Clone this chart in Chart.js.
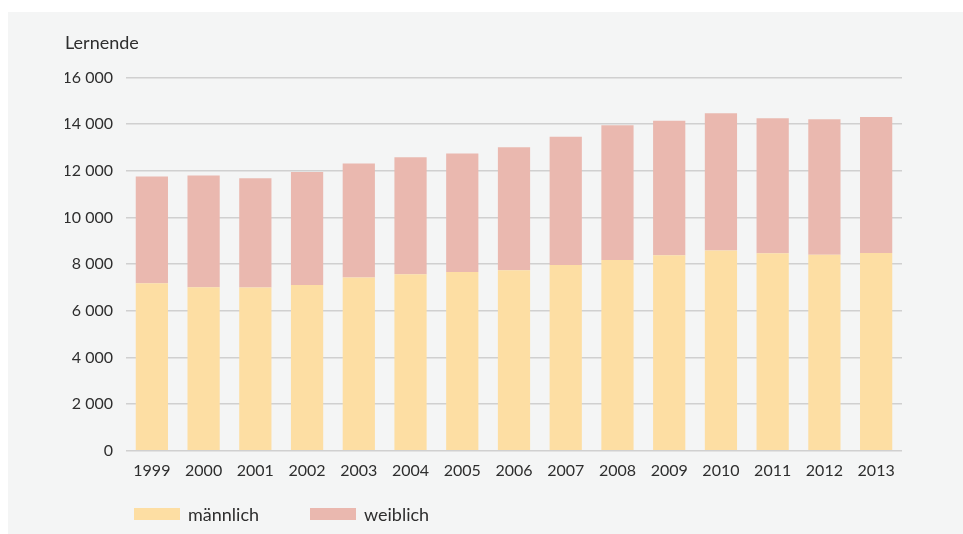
<!DOCTYPE html>
<html>
<head>
<meta charset="utf-8">
<script src="https://cdn.jsdelivr.net/npm/chart.js@4"></script>
<style>
  html, body { margin: 0; padding: 0; background: #fff; }
  #panel {
    position: absolute; left: 8px; top: 12px; width: 955px; height: 522px;
    background: #f4f5f5;
  }
  #myChart { position: absolute; left: 0; top: 0; }
  #legend {
    position: absolute; left: 126px; top: 491px;
    font-family: Lato, sans-serif; font-size: 18px; color: #2e2e2e;
  }
  .item { position: absolute; top: 0; white-space: nowrap; display: flex; align-items: center; }
  .box { display: inline-block; width: 46px; height: 12px; margin-right: 8px; }
</style>
</head>
<body>
<div id="panel">
  <canvas id="myChart" width="955" height="522"></canvas>
  <div id="legend"></div>
</div>
<script>
// Lernende nach Geschlecht, 1999-2013
const years = ['1999', '2000', '2001', '2002', '2003', '2004', '2005', '2006',
  '2007', '2008', '2009', '2010', '2011', '2012', '2013']
const maennlich = [7180, 7010, 7000, 7110, 7430, 7570, 7670, 7740,
  7970, 8180, 8380, 8590, 8470, 8400, 8480]
const weiblich = [4580, 4790, 4680, 4840, 4890, 5020, 5080, 5270,
  5490, 5780, 5770, 5880, 5790, 5810, 5830]
const yTicks = [0, 2000, 4000, 6000, 8000, 10000, 12000, 14000, 16000]

const textColor = '#2e2e2e'
const font = 'Lato'

function fmt(v) {
  return String(v).replace(/\B(?=(\d{3})+(?!\d))/g, ' ')
}

const ctx = document.getElementById('myChart')
const myChart = new Chart(ctx, {
  type: 'bar',
  data: {
    labels: years,
    datasets: [{
      label: 'männlich',
      data: maennlich,
      backgroundColor: '#fddea3'
    }, {
      label: 'weiblich',
      data: weiblich,
      backgroundColor: '#eab8af'
    }]
  },
  options: {
    responsive: false,
    animation: false,
    layout: { padding: { left: 57, right: 61, top: 0, bottom: 44 } },
    datasets: {
      bar: { categoryPercentage: 1, barPercentage: 0.623, borderWidth: 0 }
    },
    plugins: {
      legend: { display: false },
      tooltip: { enabled: false },
      title: {
        display: true,
        text: 'Lernende',
        align: 'start',
        color: textColor,
        font: { family: font, size: 18, weight: 'normal' },
        padding: { top: 20, bottom: 24 }
      }
    },
    scales: {
      x: {
        stacked: true,
        grid: { display: false, drawTicks: false },
        border: { display: false },
        ticks: {
          color: textColor,
          padding: 10,
          font: { family: font, size: 16 }
        }
      },
      y: {
        stacked: true,
        min: 0,
        max: 16000,
        afterFit: scale => { scale.width = 61 },
        afterBuildTicks: scale => {
          scale.ticks = yTicks.map(v => ({ value: v }))
        },
        grid: { color: '#d0d0d0', lineWidth: 1.5, drawTicks: false },
        border: { display: false },
        ticks: {
          color: textColor,
          padding: 13,
          font: { family: font, size: 16 },
          callback: v => fmt(v)
        }
      }
    }
  }
})

// legend from the datasets
const legendEl = document.getElementById('legend')
const offsets = [0, 176]
myChart.data.datasets.forEach((ds, i) => {
  const item = document.createElement('div')
  item.className = 'item'
  item.style.left = offsets[i] + 'px'
  item.innerHTML = '<span class="box" style="background:' + ds.backgroundColor + '"></span>' + ds.label
  legendEl.appendChild(item)
})
</script>
</body>
</html>
